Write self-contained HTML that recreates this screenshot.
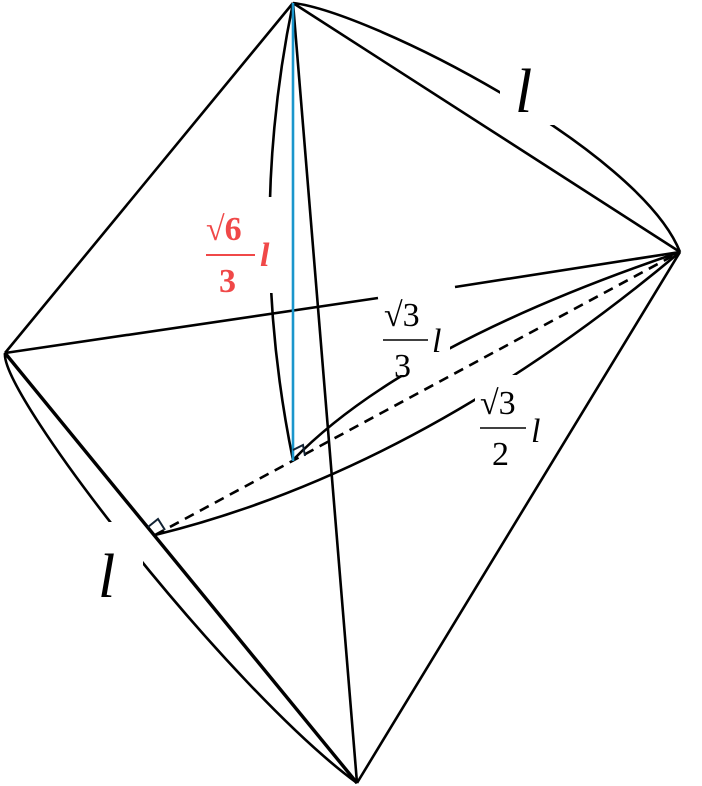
<!DOCTYPE html>
<html><head><style>
body{margin:0;background:#fff}
svg{display:block}
text{font-family:"Liberation Serif",serif}
</style></head><body>
<svg width="702" height="786" viewBox="0 0 702 786" xmlns="http://www.w3.org/2000/svg">
<g fill="none" stroke="#000" stroke-width="2.6">
<path d="M293,3 C370,12 640,150 680,252"/>
<path d="M5,353 C0,395 230,690 357,783"/>
<path d="M293,3 Q246,231 293,460"/>
<path d="M293,460 Q405,345 680,252"/>
<path d="M155,535 Q420,470 680,252"/>
</g>
<g fill="#fff">
<rect x="500" y="55" width="55" height="70"/>
<rect x="85" y="522" width="58" height="46"/>
<rect x="255" y="197" width="30" height="96"/>
<rect x="380" y="330" width="70" height="45"/>
<rect x="475" y="375" width="70" height="50"/>
</g>
<g fill="none" stroke="#000" stroke-width="2.6">
<line x1="293" y1="3" x2="5" y2="353"/>
<line x1="293" y1="3" x2="680" y2="252"/>
<line x1="5" y1="353" x2="357" y2="783" stroke-width="3.4"/>
<line x1="680" y1="252" x2="357" y2="783"/>
<line x1="293" y1="3" x2="357" y2="783"/>
<line x1="5" y1="353" x2="378" y2="298"/>
<line x1="455" y1="287" x2="680" y2="252"/>
<line x1="155" y1="535" x2="680" y2="252" stroke-dasharray="10,7"/>
</g>
<line x1="293" y1="3" x2="293" y2="461" stroke="#1a96cc" stroke-width="2.6"/>
<g fill="none" stroke="#123" stroke-width="2">
<path d="M293,450 L303,445 L305,456"/>
<path d="M148,527 L158,519 L165,530"/>
</g>
<g fill="#000">
<text x="515" y="112" font-size="62" font-style="italic">l</text>
<text x="98" y="597" font-size="62" font-style="italic">l</text>
<text x="384" y="326" font-size="34">√3</text>
<line x1="383" y1="340" x2="428" y2="340" stroke="#000" stroke-width="1.6"/>
<text x="394" y="377" font-size="34">3</text>
<text x="432" y="352" font-size="34" font-style="italic">l</text>
<text x="480" y="414" font-size="34">√3</text>
<line x1="480" y1="428" x2="526" y2="428" stroke="#000" stroke-width="1.6"/>
<text x="492" y="465" font-size="34">2</text>
<text x="531" y="442" font-size="34" font-style="italic">l</text>
</g>
<g fill="#f04848" font-weight="bold">
<text x="206" y="240" font-size="34">√6</text>
<line x1="206" y1="255" x2="255" y2="255" stroke="#f04848" stroke-width="2"/>
<text x="219" y="292" font-size="34">3</text>
<text x="260" y="266" font-size="34" font-style="italic">l</text>
</g>
</svg>
</body></html>
